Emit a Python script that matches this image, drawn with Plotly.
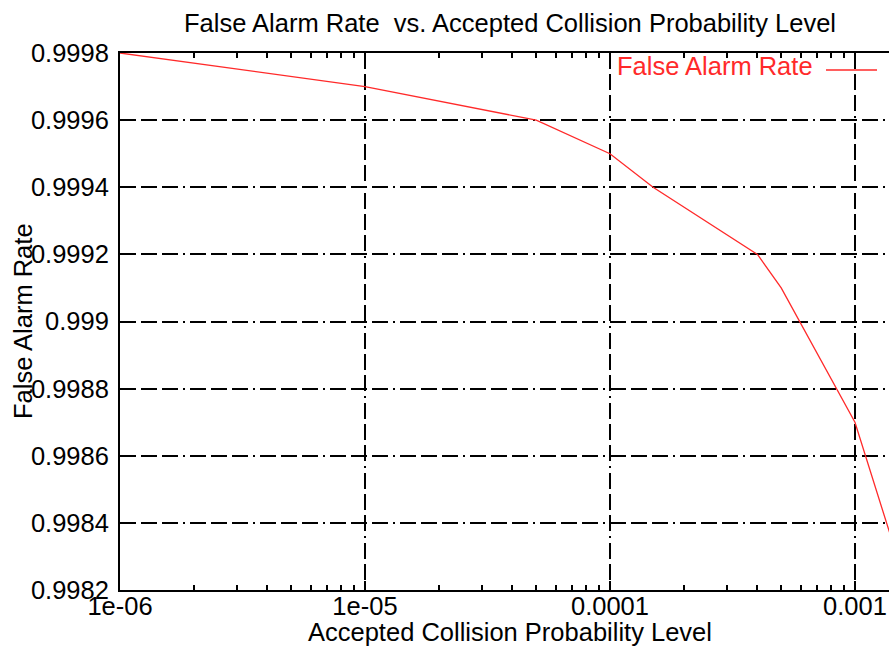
import plotly.graph_objects as go

# Data
collision_prob = [1e-6, 1e-5, 5e-5, 1e-4, 1.5e-4, 4e-4, 5e-4, 1e-3, 2e-3]
false_alarm_rate = [0.9998, 0.9997, 0.9996, 0.9995, 0.9994, 0.9992, 0.9991, 0.9987, 0.9980]

x_tickvals = [1e-6, 1e-5, 1e-4, 1e-3]
x_ticktext = ["1e-06", "1e-05", "0.0001", "0.001"]
x_minor = [k * d for d in [1e-6, 1e-5, 1e-4, 1e-3] for k in range(2, 10)]

y_tickvals = [0.9982, 0.9984, 0.9986, 0.9988, 0.9990, 0.9992, 0.9994, 0.9996, 0.9998]
y_ticktext = ["0.9982", "0.9984", "0.9986", "0.9988", "0.999", "0.9992", "0.9994", "0.9996", "0.9998"]

FONT = "Liberation Sans, Arial, sans-serif"
FS = 25.5
GRID_DASH = "16px,5px,16px,5px,16px,5px,2px,5px"
OFF = 0  # body margin removed below
W, H = 889, 650
L, R, T, B = 120, 0, 53, 650 - 590
pw, ph = W - L - R, H - T - B
RED = "#ff2a2a"


def px_x(xabs):
    return (xabs - OFF - L) / pw


def px_y(yabs):
    return (H - B - (yabs - OFF)) / ph


fig = go.Figure()
fig.add_trace(go.Scatter(
    x=collision_prob, y=false_alarm_rate, mode="lines",
    line=dict(color=RED, width=1.3), name="False Alarm Rate",
))

fig.update_layout(
    width=W, height=H,
    margin=dict(l=L, r=R, t=T, b=B, autoexpand=False),
    paper_bgcolor="white", plot_bgcolor="white",
    showlegend=False,
    font=dict(family=FONT, size=FS, color="black"),
    title=dict(
        text="False Alarm Rate  vs. Accepted Collision Probability Level",
        x=(510 - OFF) / W, xref="container", xanchor="center",
        y=1 - (23 - OFF) / H, yref="container", yanchor="middle",
        font=dict(size=FS, color="black"),
    ),
)

fig.update_xaxes(
    type="log", range=[-6, -2.861],
    tickmode="array", tickvals=x_tickvals, ticktext=x_ticktext,
    ticks="inside", ticklen=9, tickwidth=1.5, tickcolor="black",
    ticklabelstandoff=-8,
    showline=True, linecolor="black", linewidth=2, mirror="ticks",
    showgrid=True, gridcolor="black", gridwidth=1.5, griddash=GRID_DASH,
    zeroline=False, automargin=False,
    minor=dict(tickmode="array", tickvals=x_minor, ticks="inside", ticklen=5,
               tickwidth=1.5, tickcolor="black", showgrid=False),
)

fig.update_yaxes(
    range=[0.9982, 0.9998],
    tickmode="array", tickvals=y_tickvals, ticktext=y_ticktext,
    ticks="inside", ticklen=9, tickwidth=1.5, tickcolor="black",
    ticklabelstandoff=4,
    showline=True, linecolor="black", linewidth=2, mirror=False,
    showgrid=True, gridcolor="black", gridwidth=1.5, griddash=GRID_DASH,
    zeroline=False, automargin=False,
)

# X axis label
fig.add_annotation(
    text="Accepted Collision Probability Level", xref="paper", yref="paper",
    x=px_x(510), y=px_y(632), xanchor="center", yanchor="middle",
    showarrow=False, font=dict(size=FS, color="black"),
)

# Y axis label (overlapping tick labels, as in the reference)
fig.add_annotation(
    text="False Alarm Rate", xref="paper", yref="paper",
    x=px_x(23), y=px_y(321), xanchor="center", yanchor="middle",
    textangle=-90, showarrow=False, font=dict(size=FS, color="black"),
)

# Legend: text in red with line sample to its right
fig.add_annotation(
    text="False Alarm Rate", xref="paper", yref="paper",
    x=px_x(815), y=px_y(66), xanchor="right", yanchor="middle",
    showarrow=False, font=dict(size=FS, color=RED),
)
fig.add_shape(
    type="line", xref="paper", yref="paper",
    x0=px_x(826), x1=px_x(877), y0=px_y(70), y1=px_y(70),
    line=dict(color=RED, width=1.3),
)

fig.write_html(
    "out.html",
    config={"displayModeBar": False},
    post_script="document.body.style.margin='0';document.body.style.overflow='hidden';",
)
